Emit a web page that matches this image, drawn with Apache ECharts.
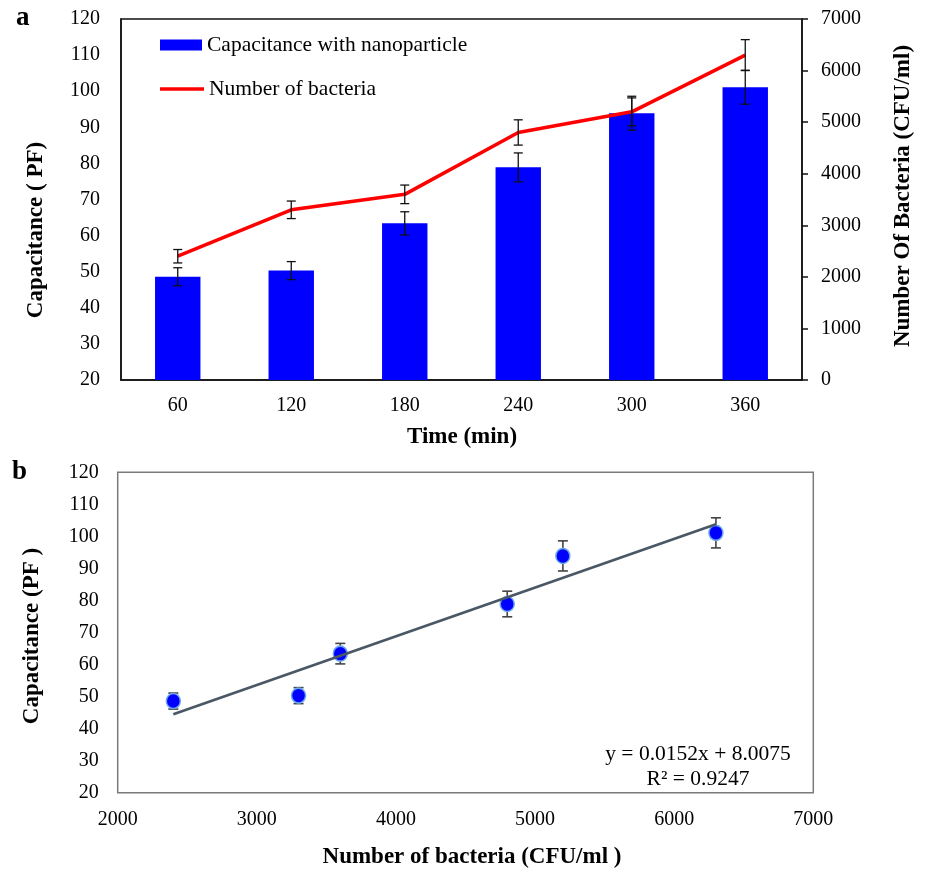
<!DOCTYPE html>
<html>
<head>
<meta charset="utf-8">
<script src="https://cdn.jsdelivr.net/npm/echarts@6/dist/echarts.min.js"></script>
<style>html,body{margin:0;padding:0;background:#fff;}#c{width:927px;height:871px;}</style>
</head>
<body>
<div id="c"></div>
<script>
// ---- Data ----
const timeCategories = ['60', '120', '180', '240', '300', '360'];
const capacitance = [48.6, 50.3, 63.4, 78.9, 93.9, 101.1];
const capacitanceErr = [2.5, 2.5, 3.2, 4.0, 4.7, 4.7];
const bacteria = [2400, 3300, 3600, 4800, 5200, 6300];
const bacteriaErr = [130, 170, 180, 245, 270, 300];
const trendX = [2400, 6300];
const trendY = [44.5, 103.8];
const equationLines = ['y = 0.0152x + 8.0075', 'R² = 0.9247'];
const seriesNames = ['Capacitance with nanoparticle', 'Number of bacteria'];

const FONT = 'Liberation Serif';
const chart = echarts.init(document.getElementById('c'), null, {renderer: 'canvas'});

function errRender(color, lw, hw) {
  return function (params, api) {
    const x = api.value(0), y = api.value(1), e = api.value(2);
    const hi = api.coord([x, y + e]);
    const lo = api.coord([x, y - e]);
    const st = {stroke: color, lineWidth: lw};
    return {type: 'group', children: [
      {type: 'line', shape: {x1: hi[0], y1: hi[1], x2: lo[0], y2: lo[1]}, style: st},
      {type: 'line', shape: {x1: hi[0] - hw, y1: hi[1], x2: hi[0] + hw, y2: hi[1]}, style: st},
      {type: 'line', shape: {x1: lo[0] - hw, y1: lo[1], x2: lo[0] + hw, y2: lo[1]}, style: st}
    ]};
  };
}

const barErrData = capacitance.map((v, i) => [i, v, capacitanceErr[i]]);
const lineErrData = bacteria.map((v, i) => [i, v, bacteriaErr[i]]);
const scatterData = bacteria.map((b, i) => [b, capacitance[i]]);
const scatterErrData = bacteria.map((b, i) => [b, capacitance[i], capacitanceErr[i]]);
const trendData = trendX.map((x, i) => [x, trendY[i]]);

const plain = v => String(v);
const labelStyle = {color: '#000', fontFamily: FONT, fontSize: 20, formatter: plain};
const titleStyle = {fill: '#000', font: 'bold 23px "Liberation Serif"', textAlign: 'center', textVerticalAlign: 'middle'};

const option = {
  animation: false,
  backgroundColor: '#fff',
  textStyle: {fontFamily: FONT},
  grid: [
    {left: 121, top: 19, width: 681, height: 361, show: true, borderColor: '#111', borderWidth: 1.5, backgroundColor: 'transparent'},
    {left: 117.7, top: 472.3, width: 695.6, height: 320.4, show: true, borderColor: '#7a7a7a', borderWidth: 1.5, backgroundColor: 'transparent'}
  ],
  legend: [
    {
      left: 160, top: 34, padding: 0, orient: 'vertical',
      itemWidth: 42, itemHeight: 11,
      textStyle: {color: '#000', fontFamily: FONT, fontSize: 21.5, lineHeight: 22},
      data: [{name: seriesNames[0], icon: 'rect', itemStyle: {borderWidth: 0}}]
    },
    {
      left: 160, top: 78, padding: 0, orient: 'vertical',
      itemWidth: 44, itemHeight: 3.5,
      textStyle: {color: '#000', fontFamily: FONT, fontSize: 21.5, lineHeight: 22},
      data: [{name: seriesNames[1], icon: 'rect'}]
    }
  ],
  xAxis: [
    {
      type: 'category', gridIndex: 0, data: timeCategories, boundaryGap: true,
      axisLine: {show: true, lineStyle: {color: '#111', width: 1.5}},
      axisTick: {show: false},
      axisLabel: Object.assign({margin: 16}, labelStyle),
      splitLine: {show: false}
    },
    {
      type: 'value', gridIndex: 1, min: 2000, max: 7000, interval: 1000,
      axisLine: {show: false}, axisTick: {show: false},
      axisLabel: Object.assign({margin: 17}, labelStyle),
      splitLine: {show: false}
    }
  ],
  yAxis: [
    {
      type: 'value', gridIndex: 0, min: 20, max: 120, interval: 10, position: 'left',
      axisLine: {show: true, lineStyle: {color: '#111', width: 1.5}},
      axisTick: {show: false},
      axisLabel: Object.assign({margin: 21}, labelStyle),
      splitLine: {show: false}
    },
    {
      type: 'value', gridIndex: 0, min: 0, max: 7000, interval: 1000, position: 'right',
      axisLine: {show: true, lineStyle: {color: '#111', width: 1.5}},
      axisTick: {show: true, inside: false, length: 6, lineStyle: {color: '#111', width: 1.5}},
      axisLabel: Object.assign({margin: 19}, labelStyle),
      splitLine: {show: false}
    },
    {
      type: 'value', gridIndex: 1, min: 20, max: 120, interval: 10,
      axisLine: {show: false}, axisTick: {show: false},
      axisLabel: Object.assign({margin: 19}, labelStyle),
      splitLine: {show: false}
    }
  ],
  series: [
    {
      name: seriesNames[0], type: 'bar', xAxisIndex: 0, yAxisIndex: 0,
      data: capacitance, barWidth: '40%',
      itemStyle: {color: '#0000ff'},
      z: 2
    },
    {
      type: 'custom', xAxisIndex: 0, yAxisIndex: 0, data: barErrData,
      renderItem: errRender('#111', 1.3, 4.5), z: 4, silent: true
    },
    {
      name: seriesNames[1], type: 'line', xAxisIndex: 0, yAxisIndex: 1,
      data: bacteria, symbol: 'none',
      lineStyle: {color: '#ff0000', width: 3.5},
      itemStyle: {color: '#ff0000'},
      z: 3
    },
    {
      type: 'custom', xAxisIndex: 0, yAxisIndex: 1, data: lineErrData,
      renderItem: errRender('#111', 1.3, 4.5), z: 5, silent: true
    },
    {
      type: 'custom', xAxisIndex: 1, yAxisIndex: 2, data: scatterErrData,
      renderItem: errRender('#444', 1.6, 5), z: 2, silent: true
    },
    {
      type: 'scatter', xAxisIndex: 1, yAxisIndex: 2, data: scatterData,
      symbol: 'circle', symbolSize: [14, 15],
      itemStyle: {color: '#0000ff', borderColor: '#6aa6e8', borderWidth: 1.5, opacity: 1},
      z: 3
    },
    {
      type: 'line', xAxisIndex: 1, yAxisIndex: 2, data: trendData,
      symbol: 'none', lineStyle: {color: '#4a5866', width: 2.8}, z: 4, silent: true
    }
  ],
  graphic: [
    {type: 'text', left: 16, top: 5, style: {text: 'a', fill: '#000', font: 'bold 27px "Liberation Serif"'}},
    {type: 'text', left: 12, top: 459, style: {text: 'b', fill: '#000', font: 'bold 27px "Liberation Serif"'}},
    {type: 'text', x: 36, y: 230, rotation: Math.PI / 2, style: Object.assign({text: 'Capacitance ( PF)'}, titleStyle)},
    {type: 'text', x: 903, y: 196, rotation: Math.PI / 2, style: Object.assign({text: 'Number Of Bacteria (CFU/ml)'}, titleStyle)},
    {type: 'text', x: 462, y: 437, style: Object.assign({text: 'Time (min)'}, titleStyle)},
    {type: 'text', x: 32, y: 636, rotation: Math.PI / 2, style: Object.assign({text: 'Capacitance (PF )'}, titleStyle)},
    {type: 'text', x: 472, y: 857, style: Object.assign({text: 'Number of bacteria (CFU/ml )'}, titleStyle)},
    {type: 'text', x: 698, y: 754, style: {text: equationLines[0], fill: '#000', font: '21.5px "Liberation Serif"', textAlign: 'center', textVerticalAlign: 'middle'}},
    {type: 'text', x: 698, y: 779, style: {text: equationLines[1], fill: '#000', font: '21.5px "Liberation Serif"', textAlign: 'center', textVerticalAlign: 'middle'}}
  ]
};
chart.setOption(option);
</script>
</body>
</html>
